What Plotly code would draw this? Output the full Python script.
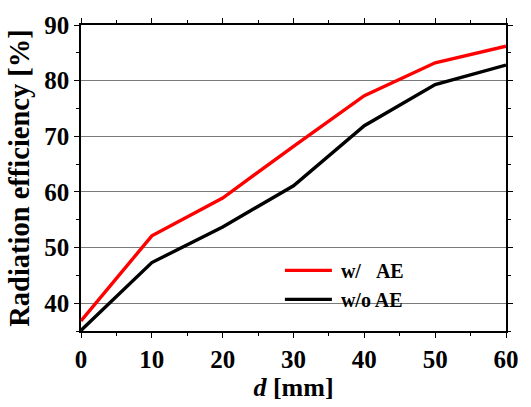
import plotly.graph_objects as go

d_mm = [0, 10, 20, 30, 40, 50, 60]
eff_with_ae = [36.8, 52.1, 58.9, 68.2, 77.3, 83.2, 86.2]
eff_without_ae = [35.1, 47.3, 53.7, 61.1, 71.9, 79.3, 82.8]

FONT = "Liberation Serif"

fig = go.Figure()
fig.add_trace(go.Scatter(x=d_mm, y=eff_with_ae, mode="lines",
                         name="<b>\u2009w/\u00a0\u00a0\u00a0AE</b>",
                         line=dict(color="#ff0000", width=3.4)))
fig.add_trace(go.Scatter(x=d_mm, y=eff_without_ae, mode="lines",
                         name="<b>\u2009w/o AE</b>",
                         line=dict(color="#000000", width=3.4)))

axis_common = dict(
    showline=True, linecolor="black", linewidth=1.5, mirror="allticks",
    ticks="outside", ticklen=5, tickwidth=1.2, tickcolor="black",
    tickfont=dict(family=FONT, size=25, color="black", weight="bold"),
    zeroline=False,
)

fig.update_xaxes(
    range=[0, 60], dtick=10, tick0=0, showgrid=False,
    minor=dict(ticks="outside", dtick=5, ticklen=3, tickwidth=1.2, tickcolor="black"),
    title=dict(text="<b><i>d</i> [mm]</b>", font=dict(family=FONT, size=26, color="black"),
               standoff=4),
    **axis_common,
)
fig.update_yaxes(
    range=[35, 90], dtick=10, tick0=0, showgrid=True, gridcolor="#7a7a7a", gridwidth=1.2,
    minor=dict(ticks="outside", dtick=5, tick0=0, ticklen=3, tickwidth=1.2, tickcolor="black",
               showgrid=False),
    title=dict(text="<b>Radiation efficiency [%]</b>", font=dict(family=FONT, size=28.5, color="black"),
               standoff=6),
    **axis_common,
)

fig.update_layout(
    width=531, height=407,
    margin=dict(l=81, r=21, t=19, b=69),
    paper_bgcolor="white", plot_bgcolor="white",
    showlegend=True,
    legend=dict(x=0.468, y=0.262, xanchor="left", yanchor="top",
                bgcolor="rgba(0,0,0,0)", borderwidth=0, itemwidth=47,
                font=dict(family=FONT, size=20, color="black"),
                tracegroupgap=0),
)

fig.write_html("out.html")
